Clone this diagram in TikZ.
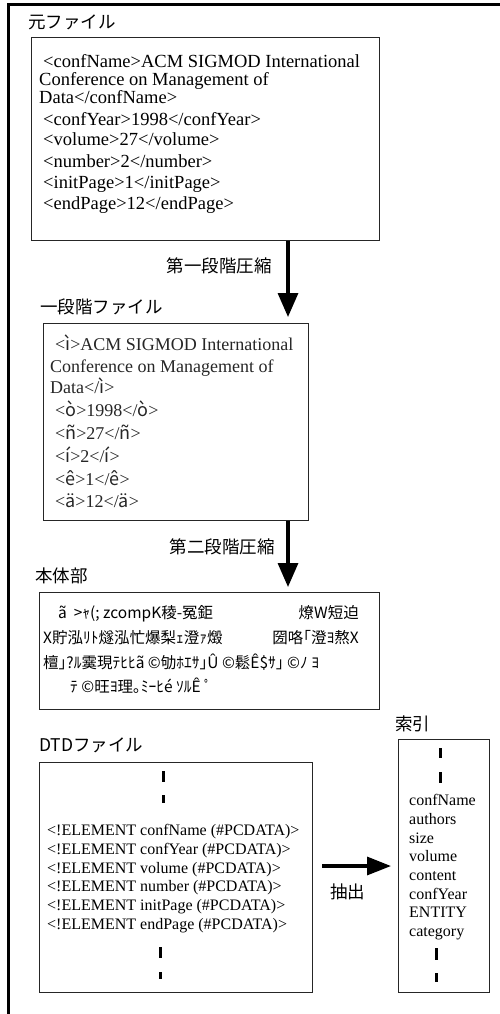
\documentclass[tikz,border=0pt]{standalone}
\usepackage{fontspec}
\setmainfont{Liberation Serif}
\newfontfamily\jp{Noto Sans CJK JP}
\usetikzlibrary{arrows.meta}
\begin{document}
\begin{tikzpicture}[x=1pt,y=-1pt,
  box/.style={draw=black!85, line width=1.2pt, anchor=north west, inner sep=0pt},
  lbl/.style={font=\jp\fontsize{17.5}{20}\selectfont, inner sep=0pt},
  tx/.style={font=\fontsize{18.5}{20}\selectfont, anchor=base west, inner sep=0pt},
  tb/.style={font=\fontsize{18}{20}\selectfont, anchor=base west, inner sep=0pt, text=black!85},
  td/.style={font=\fontsize{16}{18}\selectfont, anchor=base west, inner sep=0pt},
  tg/.style={font=\jp\fontsize{15.5}{18}\selectfont, inner sep=0pt},
  bigarrow/.style={line width=3.3pt, -{Triangle[length=24pt,width=20pt]}},
  sidearrow/.style={line width=3.3pt, -{Triangle[length=24pt,width=18pt]}},
  vbar/.style={line width=3pt}
]
\useasboundingbox (0,0) rectangle (500,1014);
% outer frame (cropped)
\draw[line width=2.6pt] (500,4.3) -- (8.3,4.3) -- (8.3,1014);

% ---- 元ファイル
\node[lbl, anchor=west] (l1) at (28,22) {元ファイル};
\node[box, minimum width=348pt, minimum height=203pt] (b1) at (31,37) {};
\node[tx] (t11) at (43,68) {<confName>ACM SIGMOD International};
\node[tx] (t12) at (39,86) {Conference on Management of};
\node[tx] (t13) at (39,104) {Data</confName>};
\node[tx] (t14) at (43,125) {<confYear>1998</confYear>};
\node[tx] (t15) at (43,146) {<volume>27</volume>};
\node[tx] (t16) at (43,167) {<number>2</number>};
\node[tx] (t17) at (43,188) {<initPage>1</initPage>};
\node[tx] (t18) at (43,209) {<endPage>12</endPage>};

% ---- 一段階ファイル
\node[lbl, anchor=west] (l2) at (40,307) {一段階ファイル};
\node[box, minimum width=265pt, minimum height=197pt] (b2) at (43,323) {};
\node[tb] (t21) at (55,350) {<{\jp ì}>ACM SIGMOD International};
\node[tb] (t22) at (50,372) {Conference on Management of};
\node[tb] (t23) at (50,393) {Data</{\jp ì}>};
\node[tb] (t24) at (55,416) {<{\jp ò}>1998</{\jp ò}>};
\node[tb] (t25) at (55,439) {<{\jp ñ}>27</{\jp ñ}>};
\node[tb] (t26) at (55,462) {<{\jp í}>2</{\jp í}>};
\node[tb] (t27) at (55,485) {<{\jp ê}>1</{\jp ê}>};
\node[tb] (t28) at (55,507) {<{\jp ä}>12</{\jp ä}>};

% ---- 本体部
\node[lbl, anchor=west] (l3) at (35,576) {本体部};
\node[box, minimum width=340pt, minimum height=117pt] (b3) at (39,592) {};
\node[tg, anchor=base west] (g1a) at (58,618) {ã~~>ｬ(; zcompK稜-冤鉅};
\node[tg, anchor=base east] (g1b) at (359,618) {燎W短迫};
\node[tg, anchor=base west] (g2a) at (43,643) {X貯泓ﾘﾄ燧泓忙爆梨ｪ澄ｧ燬};
\node[tg, anchor=base east] (g2b) at (359,643) {圀咯｢澄ﾖ熬X};
\node[tg, anchor=base west] (g3) at (43,668) {檀｣?ﾙ霙現ﾃﾋﾋã ©劬ﾎｴｻ｣Û ©鬆Ê\$ｻ｣ ©ﾉ ﾖ};
\node[tg, anchor=base west] (g4) at (70,692) {ﾃ ©旺ﾖ理｡ﾐｰﾋé ｿﾙÊ ﾟ};

% ---- arrows 1 and 2
\coordinate (ax) at (288,0);
\draw[bigarrow] (ax |- b1.south) -- ([yshift=6pt]ax |- b2.north);
\node[lbl, anchor=east] (c1) at (272,266) {第一段階圧縮};
\draw[bigarrow] (ax |- b2.south) -- ([yshift=5pt]ax |- b3.north);
\node[lbl, anchor=east] (c2) at (275,547) {第二段階圧縮};

% ---- DTDファイル
\node[lbl, anchor=west] (l4) at (39,745) {DTDファイル};
\node[box, minimum width=273pt, minimum height=230pt] (b4) at (39,762) {};
\draw[vbar] (163,771) -- (163,782);
\draw[vbar] (163,795) -- (163,803);
\node[td] (d1) at (47,835) {<!ELEMENT confName (\#PCDATA)>};
\node[td] (d2) at (47,854) {<!ELEMENT confYear (\#PCDATA)>};
\node[td] (d3) at (47,873) {<!ELEMENT volume (\#PCDATA)>};
\node[td] (d4) at (47,891) {<!ELEMENT number (\#PCDATA)>};
\node[td] (d5) at (47,910) {<!ELEMENT initPage (\#PCDATA)>};
\node[td] (d6) at (47,929) {<!ELEMENT endPage (\#PCDATA)>};
\draw[vbar] (160,947) -- (160,958);
\draw[vbar] (160,972) -- (160,979);

% ---- 索引
\node[lbl, anchor=west] (l5) at (395,724) {索引};
\node[box, minimum width=91pt, minimum height=253pt] (b5) at (398,739) {};
\draw[vbar] (440,748) -- (440,758);
\draw[vbar] (440,772) -- (440,783);
\node[td] (i1) at (409,805) {confName};
\node[td] (i2) at (409,824) {authors};
\node[td] (i3) at (409,843) {size};
\node[td] (i4) at (409,861) {volume};
\node[td] (i5) at (409,880) {content};
\node[td] (i6) at (409,899) {confYear};
\node[td] (i7) at (409,917) {ENTITY};
\node[td] (i8) at (409,936) {category};
\draw[vbar] (436,948) -- (436,960);
\draw[vbar] (436,973) -- (436,982);

% ---- arrow 3
\coordinate (ay) at (0,866);
\draw[sidearrow] ([xshift=9pt]b4.east |- ay) -- ([xshift=-7pt]b5.west |- ay);
\node[lbl, anchor=west] (c3) at (330,892) {抽出};
\end{tikzpicture}
\end{document}
